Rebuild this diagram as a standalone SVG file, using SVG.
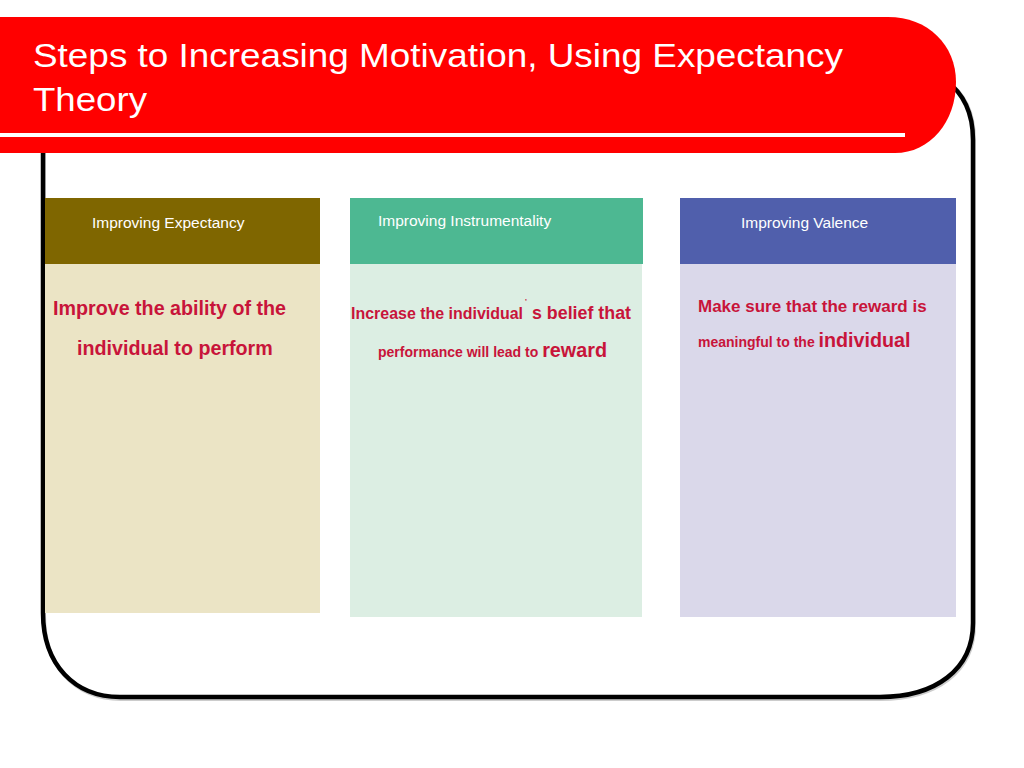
<svg xmlns="http://www.w3.org/2000/svg" width="1024" height="768" viewBox="0 0 1024 768">
<style>
.hd{font-family:"Liberation Sans",Arial,sans-serif;font-size:15.5px;fill:#ffffff}
.bd{font-family:"Liberation Sans",Arial,sans-serif;font-weight:bold;fill:#c8143a}
.ttl{font-family:"Liberation Sans",Arial,sans-serif;font-size:34px;fill:#ffffff}
</style>
<rect width="1024" height="768" fill="#ffffff"/>
<g id="frame">
<path d="M 44 102 V 615 C 44 667 76 699 121 699 H 880 C 936 699 974 672 974 625 V 140 C 974 110 963 92 945 80" fill="none" stroke="#9a9a9a" stroke-opacity="0.5" stroke-width="4"/>
<path d="M 43 100 V 613 C 43 665 75 697 120 697 H 880 C 935 697 973 670 973 623 V 140 C 973 110 962 92 945 80" fill="none" stroke="#000000" stroke-width="4.5"/>
</g>
<g id="title">
<path d="M 0 17 H 888 C 928 17 956 45 956 82 C 956 122 930 153 895 153 H 0 Z" fill="#ff0000"/>
<rect x="0" y="133" width="905" height="4" fill="#ffffff"/>
<text class="ttl" x="33" y="67" textLength="810" lengthAdjust="spacingAndGlyphs">Steps to Increasing Motivation, Using Expectancy</text>
<text class="ttl" x="33" y="111" textLength="114" lengthAdjust="spacingAndGlyphs">Theory</text>
</g>
<g id="expectancy">
<rect x="45" y="264" width="275" height="349" fill="#ebe4c5"/>
<rect x="45" y="198" width="275" height="66" fill="#7f6600"/>
<text class="hd" x="92" y="228">Improving Expectancy</text>
<text class="bd" x="53" y="315" font-size="19.7">Improve the ability of the</text>
<text class="bd" x="77" y="355" font-size="19.7">individual to perform</text>
</g>
<g id="instrumentality">
<rect x="350" y="264" width="292" height="353" fill="#dceee3"/>
<rect x="350" y="198" width="293" height="66" fill="#4db892"/>
<text class="hd" x="378" y="226">Improving Instrumentality</text>
<text class="bd" x="351" y="319" font-size="16.5" textLength="172" lengthAdjust="spacingAndGlyphs">Increase the individual</text>
<text class="bd" x="525" y="304" font-size="8">'</text>
<text class="bd" x="532" y="319" font-size="17.5" textLength="99" lengthAdjust="spacingAndGlyphs">s belief that</text>
<text class="bd" x="378" y="357" font-size="14">performance will lead to <tspan font-size="19.8">reward</tspan></text>
</g>
<g id="valence">
<rect x="680" y="264" width="276" height="353" fill="#dad8ea"/>
<rect x="680" y="198" width="276" height="66" fill="#505fac"/>
<text class="hd" x="741" y="228">Improving Valence</text>
<text class="bd" x="698" y="312" font-size="17">Make sure that the reward is</text>
<text class="bd" x="698" y="347" font-size="14">meaningful to the <tspan font-size="19.7">individual</tspan></text>
</g>
<g id="connectors"></g>
</svg>
